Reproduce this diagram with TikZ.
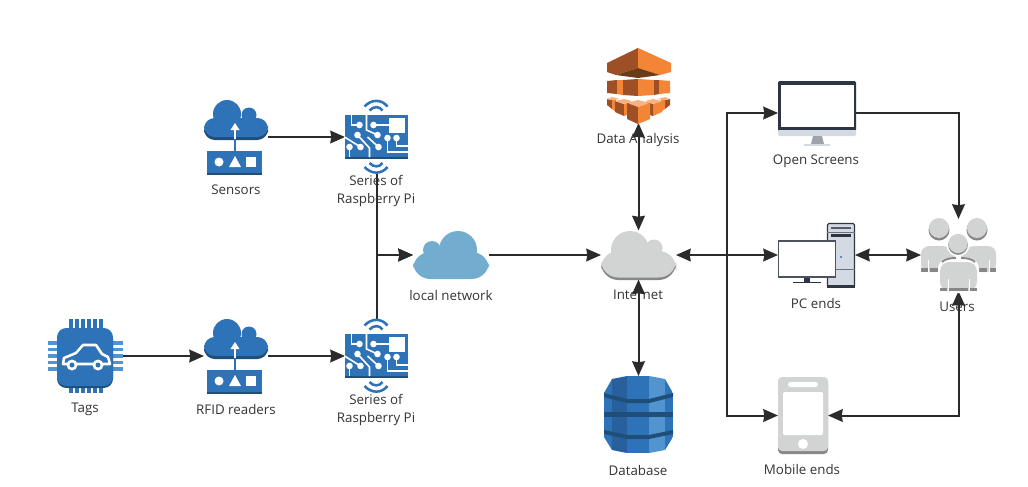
\documentclass[tikz,border=0pt]{standalone}
\usepackage{fontspec}
\setmainfont{Open Sans}
\usetikzlibrary{arrows.meta}

\definecolor{awsblue}{HTML}{2E73B8}
\definecolor{awsshade}{HTML}{28609E}
\definecolor{awsdark}{HTML}{1F4E79}
\definecolor{awslight}{HTML}{5294CF}
\definecolor{cloudblue}{HTML}{72ADCF}
\definecolor{cloudgrey}{HTML}{D2D3D3}
\definecolor{rimgrey}{HTML}{878787}
\definecolor{slate}{HTML}{2B3642}
\definecolor{panel}{HTML}{D3DAE3}
\definecolor{linkcol}{HTML}{2B2B2B}
\definecolor{orangeL}{HTML}{9D5025}
\definecolor{orangeR}{HTML}{F58536}
\definecolor{orangeT}{HTML}{FBB27E}
\definecolor{orangeU}{HTML}{6B3A17}

\tikzset{
  link/.style={draw=linkcol,line width=1.5pt,-{Stealth[length=11pt,width=9.5pt,inset=0.7pt]}},
  both/.style={link,{Stealth[length=11pt,width=9.5pt,inset=0.7pt]}-{Stealth[length=11pt,width=9.5pt,inset=0.7pt]}},
  icon/.style={inner sep=0pt,outer sep=0pt,minimum width=#1},
  lbl/.style={text=black!80,font=\fontsize{10}{12.8}\selectfont,align=center,inner sep=0pt},
  trace/.style={draw=white,line width=1.2pt},
  dot/.style={fill=white},
  wave/.style={draw=awsblue,line width=1.9pt},
  pics/reader/.style={code={
    \begin{scope}[shift={(-236,-137)}]
      \fill[awsdark,rounded corners=8pt] (204,122) rectangle (268,140);
      \fill[awsblue] (227,114) circle (14);
      \fill[awsblue] (249,115) circle (7.5);
      \fill[awsblue,rounded corners=8pt] (204,118) rectangle (268,137);
      \fill[awsblue] (234,138) rectangle (236,152);
      \fill[awsblue] (207,151) rectangle (262,175);
      \fill[awsdark] (207,172.5) rectangle (262,175);
      \draw[white,line width=1.5pt] (235,139) -- (235,127);
      \fill[white] (235,123) -- (239.5,130) -- (230.5,130) -- cycle;
      \fill[white] (219,162) circle (4.5);
      \fill[white] (235,156) -- (241,167) -- (229,167) -- cycle;
      \fill[white] (246,157) rectangle (256,167);
    \end{scope}
  }},
  pics/raspi/.style={code={
    \begin{scope}[shift={(-377,-137)}]
      \draw[wave] (365,106.5) .. controls (372,99) and (382,99) .. (388,106.5);
      \draw[wave] (370,110.5) .. controls (374,106) and (380,106) .. (383,110.5);
      \draw[wave] (370,163) .. controls (374,167.5) and (380,167.5) .. (383,163);
      \draw[wave] (365,167) .. controls (372,174.5) and (382,174.5) .. (388,167);
      \fill[awsblue] (345,115) rectangle (408,159);
      \fill[awsdark] (345,157) rectangle (408,159);
      \fill[white] (389,118) rectangle (405,133);
      \draw[trace] (389,125) -- (375,125);
      \fill[dot] (374,125) circle (3.3);
      \draw[trace] (367,115) -- (367,130) -- (378,135);
      \fill[dot] (378,135) circle (3.3);
      \draw[trace] (352,115) -- (352,125) -- (360,125);
      \fill[dot] (360,125) circle (3.3);
      \draw[trace] (358,135) -- (370,148) -- (370,157);
      \fill[dot] (358,135) circle (3.3);
      \draw[trace] (345,137) -- (361,147);
      \fill[dot] (361,147) circle (3.3);
      \draw[trace] (350,147) -- (350,157);
      \fill[dot] (350,147) circle (3.3);
      \draw[trace] (368,137) -- (379,147);
      \fill[dot] (379,147) circle (3.3);
      \draw[trace] (388,138) -- (388,152) -- (408,152);
      \fill[dot] (388,138) circle (3.3);
      \draw[trace] (397,138) -- (397,146) -- (408,146);
      \fill[dot] (397,138) circle (3.3);
    \end{scope}
  }},
}

\begin{document}
\begin{tikzpicture}[x=0.75pt,y=-0.75pt]
  \useasboundingbox (0,0) rectangle (1028,486);

  % icon boxes
  \node[icon=48pt,minimum height=55.5pt] (sensors) at (236,137) {};
  \node[icon=48pt,minimum height=55.5pt] (rfid) at (236,356) {};
  \node[icon=47.25pt,minimum height=55.5pt] (piA) at (376.5,137) {};
  \node[icon=47.25pt,minimum height=55.5pt] (piB) at (376.5,356) {};
  \node[icon=56.25pt,minimum height=51pt] (tags) at (85.5,356) {};
  \node[icon=57pt,minimum height=36pt] (local) at (451,255) {};
  \node[icon=56.25pt,minimum height=36.75pt] (internet) at (638.5,255) {};
  \node[icon=48pt,minimum height=56.25pt] (analysis) at (638.5,85.5) {};
  \node[icon=51.75pt,minimum height=57.75pt] (database) at (638.5,414.5) {};
  \node[icon=58.5pt,minimum height=49.5pt] (screen) at (817,113) {};
  \node[icon=57.75pt,minimum height=48pt] (pc) at (816.5,255) {};
  \node[icon=37.5pt,minimum height=57.75pt] (mobile) at (803,415.5) {};
  \node[icon=56.25pt,minimum height=54pt] (users) at (958.5,255) {};
  \coordinate (branch) at (727,255);

  % labels
  \node[lbl] (lsensors) at (236,190) {Sensors};
  \node[lbl] (lrfid) at (236,409) {RFID readers};
  \node[lbl] (lpiA) at (376,191) {Series of\\Raspberry Pi};
  \node[lbl] (lpiB) at (376,410) {Series of\\Raspberry Pi};
  \node[lbl] (ltags) at (85,409) {Tags};
  \node[lbl] (llocal) at (451,295) {local network};
  \node[lbl] (linternet) at (638,295) {Internet};
  \node[lbl] (lanalysis) at (638,140) {Data Analysis};
  \node[lbl] (ldatabase) at (638,470) {Database};
  \node[lbl] (lscreen) at (816,161) {Open Screens};
  \node[lbl] (lpc) at (816,303) {PC ends};
  \node[lbl] (lmobile) at (802,469) {Mobile ends};
  \node[lbl] (lusers) at (957,307) {Users};

  % connectors
  \draw[link] (tags.east) -- (rfid.west);
  \draw[link] (rfid.east) -- (piB.west);
  \draw[link] (sensors.east) -- (piA.west);
  \draw[link] (piA.south) |- (local.west);
  \draw[link] (piB.north) |- (local.west);
  \draw[link] (local.east) -- (internet.west);
  \draw[both] (internet.north) -- (analysis.south);
  \draw[both] (internet.south) -- (database.north);
  \draw[both] (internet.east) -- (pc.west);
  \draw[link] (branch) |- (screen.west);
  \draw[link] (branch) |- (mobile.west);
  \draw[link] (screen.east) -| (users.north);
  \draw[both] (pc.east) -- (users.west);
  \draw[both] (mobile.east) -| (users.south);

  % sensors, readers, boards
  \pic at (sensors) {reader};
  \pic at (rfid) {reader};
  \pic at (piA) {raspi};
  \pic at (piB) {raspi};

  % tag chip
  \foreach \p in {71,77,83,89,95,101} {
    \fill[awsblue] (\p-1.7,319) rectangle (\p+1.7,330);
    \fill[awsblue] (\p-1.7,385) rectangle (\p+1.7,393);
  }
  \foreach \p in {343,349.5,356,362.5,369} {
    \fill[awslight] (48,\p-1.7) rectangle (59,\p+1.7);
    \fill[awslight] (111,\p-1.7) rectangle (123,\p+1.7);
  }
  \fill[awsdark,rounded corners=7pt] (57,330) rectangle (113,388);
  \fill[awsblue,rounded corners=7pt] (57,328) rectangle (113,386);
  \draw[white,line width=1.9pt,line join=round] (63,364) -- (64,358) -- (76,353) -- (83,345) -- (96,345) -- (102,354) -- (108,357) -- (110,364) -- cycle;
  \fill[white] (72,365) circle (5.5);
  \fill[white] (98,365) circle (5.5);
  \fill[awsblue] (72,365) circle (2.5);
  \fill[awsblue] (98,365) circle (2.5);

  % clouds
  \fill[cloudblue] (458,250) circle (19);
  \fill[cloudblue] (432,250) circle (9);
  \fill[cloudblue,rounded corners=13pt] (413,252) rectangle (489,279);
  \fill[rimgrey,rounded corners=13pt] (601,254) rectangle (676,280);
  \fill[cloudgrey] (630,250) circle (19);
  \fill[cloudgrey] (654,248) circle (8.5);
  \fill[cloudgrey,rounded corners=13pt] (601,251) rectangle (676,277.5);

  % data analysis
  \fill[orangeL] (607,63) -- (638,48) -- (638,68) -- (616,75) -- (607,72) -- cycle;
  \fill[orangeR] (671,63) -- (638,48) -- (638,68) -- (660,75) -- (671,72) -- cycle;
  \fill[orangeU] (616,75) -- (638,68) -- (660,75) -- (638,78) -- cycle;
  \fill[orangeL] (607,81) -- (617,80) -- (617,94) -- (607,93) -- cycle;
  \fill[orangeR] (617,80) -- (623,80) -- (623,95) -- (617,94) -- cycle;
  \fill[orangeL] (623,80) -- (638,79) -- (638,96) -- (623,95) -- cycle;
  \fill[orangeR] (638,79) -- (654,80) -- (654,95) -- (638,96) -- cycle;
  \fill[orangeL] (654,80) -- (659,80) -- (659,94) -- (654,95) -- cycle;
  \fill[orangeR] (659,80) -- (670,81) -- (670,93) -- (659,94) -- cycle;
  \fill[orangeL] (607,99) -- (612,100) -- (612,109) -- (607,105) -- cycle;
  \fill[orangeR] (612,100) -- (616,99) -- (616,112) -- (612,109) -- cycle;
  \fill[orangeT] (607,99) -- (612,97) -- (620,99) -- (612,100) -- cycle;
  \fill[orangeL] (615,101) -- (624,104) -- (624,116) -- (615,112) -- cycle;
  \fill[orangeR] (624,104) -- (630,102) -- (630,114) -- (624,116) -- cycle;
  \fill[orangeT] (615,101) -- (624,99) -- (632,101) -- (624,104) -- cycle;
  \fill[orangeL] (670,99) -- (665,100) -- (665,109) -- (670,105) -- cycle;
  \fill[orangeR] (665,100) -- (661,99) -- (661,112) -- (665,109) -- cycle;
  \fill[orangeT] (670,99) -- (665,97) -- (657,99) -- (665,100) -- cycle;
  \fill[orangeR] (662,101) -- (653,104) -- (653,116) -- (662,112) -- cycle;
  \fill[orangeL] (653,104) -- (647,102) -- (647,114) -- (653,116) -- cycle;
  \fill[orangeT] (662,101) -- (653,99) -- (645,101) -- (653,104) -- cycle;
  \fill[orangeT] (627,103) -- (638,100) -- (650,103) -- (638,107) -- cycle;
  \fill[orangeL] (627,103) -- (638,107) -- (638,124) -- (627,119) -- cycle;
  \fill[orangeR] (650,103) -- (638,107) -- (638,124) -- (650,119) -- cycle;

  % database
  \begin{scope}
    \clip (627,376) -- (649,376) -- (665,379) -- (673,393) -- (673,437) -- (665,450) -- (649,453) -- (627,453) -- (612,450) -- (604,437) -- (604,393) -- (612,379) -- cycle;
    \fill[awsblue] (604,376) rectangle (612,453);
    \fill[awsshade] (612,376) rectangle (627,453);
    \fill[awsblue] (627,376) rectangle (649,453);
    \fill[awslight] (649,376) rectangle (665,453);
    \fill[awsblue] (665,376) rectangle (673,453);
    \fill[awsdark] (604,393) -- (627,399) -- (649,399) -- (673,393) -- (673,397) -- (649,403) -- (627,403) -- (604,397) -- cycle;
    \fill[awsdark] (604,412) rectangle (673,417);
    \fill[awsdark] (604,430) -- (627,435) -- (649,435) -- (673,430) -- (673,434) -- (649,439) -- (627,439) -- (604,434) -- cycle;
  \end{scope}

  % open screen
  \fill[slate,rounded corners=1pt] (778,81) rectangle (856,131);
  \fill[white] (781,85) rectangle (854,127);
  \fill[panel,rounded corners=1pt] (778,130) rectangle (856,136);
  \fill[black!25!panel] (813,136) -- (822,136) -- (824,144) -- (811,144) -- cycle;
  \fill[panel] (804,144) rectangle (830,146);

  % pc
  \fill[panel,draw=slate,line width=0.8pt,rounded corners=1pt] (827.5,223.5) rectangle (854.5,287);
  \fill[slate] (827,285) rectangle (855,287.5);
  \fill[slate!80] (831,227) rectangle (851,228.5);
  \fill[slate] (831,234) rectangle (851,237);
  \draw[slate!70,line width=0.5pt] (827,232) -- (855,232);
  \draw[slate!70,line width=0.5pt] (827,269) -- (855,269);
  \fill[awsblue] (841,257) circle (1.2);
  \fill[white,draw=slate!85,line width=0.9pt] (778.5,241) rectangle (835.5,277);
  \fill[slate] (804,277.5) rectangle (810,282);
  \fill[slate] (793,282) rectangle (821,283.2);

  % mobile
  \fill[rimgrey,rounded corners=3pt] (778,380) rectangle (828,454);
  \fill[cloudgrey,rounded corners=3pt] (778,377) rectangle (828,451);
  \fill[white,rounded corners=2pt] (788,382) rectangle (818,387);
  \fill[white,rounded corners=1pt] (783,392) rectangle (823,435);
  \fill[white] (803,444) circle (5);

  % users
  \foreach \c in {939,977} {
    \fill[rimgrey] (\c,230) circle (10.5);
    \fill[cloudgrey] (\c,228) circle (10);
  }
  \fill[cloudgrey,rounded corners=6pt] (921,272) -- (921,246) -- (950,246) -- (958,258) -- (946,272) -- cycle;
  \fill[cloudgrey,rounded corners=6pt] (996,272) -- (996,246) -- (967,246) -- (958,258) -- (970,272) -- cycle;
  \fill[rimgrey] (921,268) rectangle (928,272);
  \fill[rimgrey] (930,268) rectangle (940,272);
  \fill[rimgrey] (977,268) rectangle (987,272);
  \fill[rimgrey] (989,268) rectangle (996,272);
  \draw[white,line width=0.7pt] (928,260) -- (928,272);
  \draw[white,line width=0.7pt] (989,260) -- (989,272);
  \fill[white,rounded corners=8pt] (938,293) -- (938,258) -- (979,258) -- (979,293) -- cycle;
  \draw[rimgrey,line width=1.4pt] (942,262) .. controls (945,259) and (950,258) .. (956,258);
  \draw[rimgrey,line width=1.4pt] (975,262) .. controls (972,259) and (967,258) .. (961,258);
  \fill[cloudgrey,rounded corners=7pt] (940,291) -- (940,262) -- (977,262) -- (977,291) -- cycle;
  \fill[rimgrey] (940,288) rectangle (947,291);
  \fill[rimgrey] (949,288) rectangle (968,291);
  \fill[rimgrey] (970,288) rectangle (977,291);
  \draw[white,line width=0.7pt] (948,279) -- (948,291);
  \draw[white,line width=0.7pt] (969,279) -- (969,291);
  \fill[white] (958,245) circle (11.5);
  \fill[rimgrey] (958,245) circle (9.8);
  \fill[cloudgrey] (958,243.5) circle (9.6);
\end{tikzpicture}
\end{document}
